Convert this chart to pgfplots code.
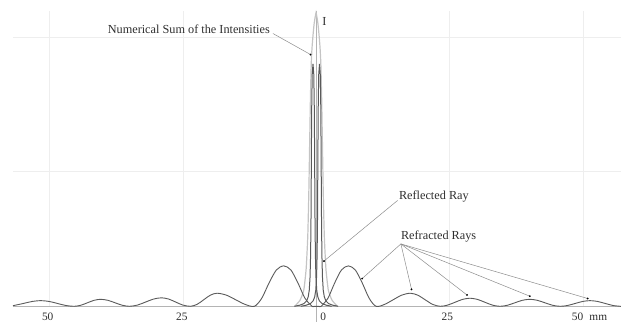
\documentclass[border=0pt]{standalone}
\usepackage{fontspec}
\setmainfont{Liberation Serif}
\usepackage{pgfplots}
\pgfplotsset{compat=1.18}
\definecolor{curve}{HTML}{5A5A5A}
\definecolor{sumc}{HTML}{C4C4C4}
\definecolor{lead}{HTML}{8C8C8C}
\definecolor{txt}{HTML}{2E2E2E}
\definecolor{gridc}{HTML}{EEEEEE}
\definecolor{axisc}{HTML}{B4B4B4}
\begin{document}
\begin{tikzpicture}
\begin{axis}[
 at={(0,0)}, anchor=south west,
 scale only axis, width=608bp, height=295bp,
 xmin=-56.84, xmax=57.10, ymin=0, ymax=2.19,
 axis line style={draw=none},
 xtick={-50,-25,25,50}, ytick={1,2},
 xticklabels={}, yticklabels={},
 major tick length=0pt,
 grid=major, grid style={draw=gridc, line width=0.6bp},
 clip=false,
]
% axis lines
\draw[axisc, line width=0.7bp] (axis cs:-56.84,0) -- (axis cs:57.1,0);
\draw[axisc, line width=0.7bp] (axis cs:0,2.19) -- ([yshift=-15.7bp]axis cs:0,0);
% numerical sum
\addplot[sumc, line width=1.2bp, smooth, tension=0.3] coordinates {
(-4.05,0) (-3.05,0.045) (-2.35,0.12) (-1.90,0.28) (-1.60,0.52) (-1.40,0.85) (-1.25,1.20) (-1.10,1.55) (-0.95,1.80) (-0.80,1.92) (-0.60,2.02) (-0.40,2.10) (-0.20,2.15) (-0.05,2.18) (0.10,2.15) (0.30,2.10) (0.50,2.02) (0.70,1.92) (0.85,1.80) (1.00,1.55) (1.15,1.20) (1.30,0.85) (1.50,0.52) (1.80,0.28) (2.25,0.12) (2.95,0.045) (3.95,0)};
% refracted oscillations
\addplot[curve, line width=0.9bp, smooth] coordinates {
(-56.84,0.0045) (-54.9,0.021) (-53.25,0.0359) (-51.6,0.042) (-50.05,0.0359) (-48.5,0.021) (-46.95,0.0061) (-45.4,0)
(-44.15,0.0076) (-42.9,0.026) (-41.65,0.0444) (-40.4,0.052) (-39.05,0.0444) (-37.7,0.026) (-36.35,0.0076) (-35.0,0)
(-33.5,0.0092) (-32.0,0.0315) (-30.5,0.0538) (-29.0,0.063) (-27.675,0.0538) (-26.35,0.0315) (-25.025,0.0092) (-23.6,0)
(-22.35,0.0142) (-21.1,0.0485) (-19.85,0.0828) (-18.6,0.097) (-16.85,0.0828) (-15.1,0.0485) (-13.35,0.0142) (-11.6,0)
(-10.225,0.06) (-8.85,0.174) (-7.475,0.27) (-6.1,0.30) (-4.775,0.27) (-3.45,0.174) (-2.125,0.06) (-0.8,0)
(-0.4,0) (0.5,0) (0.9,0)
(2.175,0.06) (3.45,0.174) (4.725,0.27) (6.0,0.30) (7.3,0.27) (8.6,0.174) (9.9,0.06) (11.2,0)
(12.8,0.0142) (14.4,0.0485) (16.0,0.0828) (17.6,0.097) (19.0,0.0828) (20.4,0.0485) (21.8,0.0142) (23.2,0)
(24.6,0.0088) (26.0,0.03) (27.4,0.0512) (28.8,0.06) (30.2,0.0512) (31.6,0.03) (33.0,0.0088) (34.4,0)
(35.8,0.0076) (37.2,0.026) (38.6,0.0444) (40.0,0.052) (41.425,0.0444) (42.85,0.026) (44.275,0.0076) (45.7,0)
(47.1,0.0061) (48.5,0.021) (49.9,0.0359) (51.3,0.042) (52.725,0.0359) (54.15,0.021) (55.575,0.0061) (57.0,0) (57.1,0)};
% central refracted peak
\addplot[curve, line width=1.0bp] coordinates {
(-4.12,0) (-3.12,0.008) (-2.32,0.02) (-1.82,0.04) (-1.52,0.07) (-1.32,0.12) (-1.17,0.22) (-1.07,0.38) (-1.00,0.62) (-0.94,1.0) (-0.87,1.45) (-0.77,1.72) (-0.62,1.80) (-0.47,1.72) (-0.37,1.45) (-0.30,1.0) (-0.24,0.62) (-0.17,0.38) (-0.07,0.22) (0.08,0.12) (0.28,0.07) (0.58,0.04) (1.08,0.02) (1.88,0.008) (2.88,0)};
% reflected peak
\addplot[curve, line width=1.0bp] coordinates {
(-2.90,0) (-1.90,0.008) (-1.10,0.02) (-0.60,0.04) (-0.30,0.07) (-0.10,0.12) (0.05,0.22) (0.15,0.38) (0.22,0.62) (0.28,1.0) (0.35,1.45) (0.45,1.72) (0.60,1.80) (0.75,1.72) (0.85,1.45) (0.92,1.0) (0.98,0.62) (1.05,0.38) (1.15,0.22) (1.30,0.12) (1.50,0.07) (1.80,0.04) (2.30,0.02) (3.10,0.008) (4.10,0)};
% leader lines
\addplot[lead, line width=0.5bp] coordinates {(-8.12,2.025) (-1.087,1.869)};
\addplot[lead, line width=0.5bp] coordinates {(15.24,0.786) (1.44,0.336)};
\addplot[lead, line width=0.5bp] coordinates {(15.85,0.463) (8.60,0.206)};
\addplot[lead, line width=0.5bp] coordinates {(15.85,0.463) (17.84,0.126)};
\addplot[lead, line width=0.5bp] coordinates {(15.85,0.463) (28.24,0.084)};
\addplot[lead, line width=0.5bp] coordinates {(15.85,0.463) (40.01,0.075)};
\addplot[lead, line width=0.5bp] coordinates {(15.85,0.463) (50.84,0.058)};
\addplot[only marks, mark=*, mark size=0.7bp, black] coordinates {(-1.087,1.869) (1.44,0.336) (8.60,0.206) (17.84,0.126) (28.24,0.084) (40.01,0.075) (50.84,0.058)};
% texts
\begin{scope}[every node/.style={inner sep=0pt, text=txt, font=\fontsize{12.3}{14}\selectfont}]
\node[anchor=base east] at (axis cs:-8.68,2.022) {Numerical Sum of the Intensities};
\node[anchor=base] at (axis cs:1.5,2.088) {I};
\node[anchor=base west] at (axis cs:15.46,0.793) {Reflected Ray};
\node[anchor=base west] at (axis cs:15.84,0.496) {Refracted Rays};
\end{scope}
\begin{scope}[every node/.style={inner sep=0pt, text=txt, anchor=base, yshift=-14.5bp, font=\fontsize{11.4}{13}\selectfont}]
\node at (axis cs:-50.34,0) {50};
\node at (axis cs:-25.2,0) {25};
\node at (axis cs:1.3,0) {0};
\node at (axis cs:24.55,0) {25};
\node at (axis cs:48.95,0) {50};
\node at (axis cs:52.85,0) {mm};
\end{scope}
\end{axis}
\pgfresetboundingbox
\path[use as bounding box] ([xshift=-13bp,yshift=-15.7bp]current axis.south west) rectangle ([yshift=11.3bp]current axis.north east);
\end{tikzpicture}
\end{document}
